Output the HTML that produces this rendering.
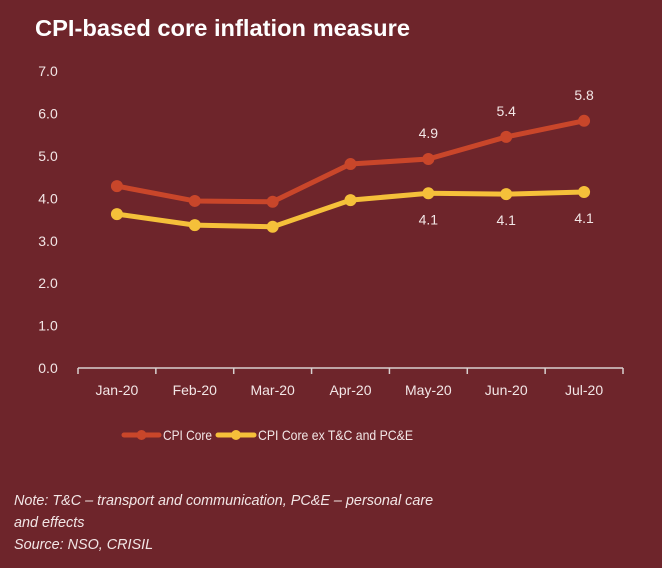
<!DOCTYPE html>
<html><head><meta charset="utf-8"><style>
body{margin:0;background:#6e252b;}
#c{position:relative;width:662px;height:568px;background:#6e252b;font-family:"Liberation Sans",sans-serif;color:#f2e6e6;overflow:hidden}
.n{position:absolute;left:14px;top:490px;font-size:14.4px;font-style:italic;line-height:22px;color:#f2e6e6}
</style></head><body>
<div id="c">
<svg id="s" width="662" height="568" style="position:absolute;left:0;top:0">
<text x="35" y="36" font-size="23" font-weight="bold" fill="#fff" textLength="375" lengthAdjust="spacingAndGlyphs">CPI-based core inflation measure</text>
</svg>
<div class="n">Note: T&amp;C – transport and communication, PC&amp;E – personal care<br>and effects<br>Source: NSO, CRISIL</div>
</div>
<script>
const categories=["Jan-20","Feb-20","Mar-20","Apr-20","May-20","Jun-20","Jul-20"];
const cpiCore=[4.29,3.94,3.92,4.81,4.93,5.45,5.83];
const cpiCoreEx=[3.63,3.37,3.33,3.96,4.12,4.10,4.15];
const coreLabels=[null,null,null,null,"4.9","5.4","5.8"];
const exLabels=[null,null,null,null,"4.1","4.1","4.1"];
const yTicks=[0,1,2,3,4,5,6,7];
const yTickLabels=["0.0","1.0","2.0","3.0","4.0","5.0","6.0","7.0"];
const NS="http://www.w3.org/2000/svg";
const svg=document.getElementById('s');
const x0=78,x1=623,y0=368,ppu=42.4;
const bw=(x1-x0)/categories.length;
const xs=i=>x0+bw*(i+0.5);
const ys=v=>y0-v*ppu;
function mk(t,a,p){const e=document.createElementNS(NS,t);for(const k in a)e.setAttribute(k,a[k]);(p||svg).appendChild(e);return e;}
yTicks.forEach((v,i)=>{const e=mk('text',{x:48,y:ys(v)+5,'font-size':14,fill:'#f2e6e6','text-anchor':'middle'});e.textContent=yTickLabels[i];

});
const ax=mk('line',{x1:x0,y1:y0,x2:x1,y2:y0,stroke:'#d8d0d0','stroke-width':1.5});


for(let i=0;i<=categories.length;i++){const tk=mk('line',{x1:x0+bw*i,y1:y0,x2:x0+bw*i,y2:y0+6,stroke:'#d8d0d0','stroke-width':1.5});

}
categories.forEach((c,i)=>{const e=mk('text',{x:xs(i),y:y0+27,'font-size':14,fill:'#f2e6e6','text-anchor':'middle'});e.textContent=c;

});
function series(vals,col,name,labels,off){
const g=mk('g',{});


mk('polyline',{points:vals.map((v,i)=>xs(i)+','+ys(v)).join(' '),fill:'none',stroke:col,'stroke-width':5,'stroke-linejoin':'round'},g);
vals.forEach((v,i)=>{const c=mk('circle',{cx:xs(i),cy:ys(v),r:6,fill:col},g);


if(labels[i]){const t=mk('text',{x:xs(i),y:ys(v)+off,'font-size':14,fill:'#f2e6e6','text-anchor':'middle'},g);t.textContent=labels[i];

}});}
series(cpiCore,'#c9462a','cpi-core-series',coreLabels,-21);
series(cpiCoreEx,'#f5c03a','cpi-core-ex-series',exLabels,31);
function leg(x,w,col,txt,tw){const g=mk('g',{});


mk('line',{x1:x,y1:435,x2:x+w,y2:435,stroke:col,'stroke-width':5,'stroke-linecap':'round'},g);
mk('circle',{cx:x+w/2,cy:435,r:5,fill:col},g);
const t=mk('text',{x:x+w+4,y:440,'font-size':14,fill:'#f2e6e6',textLength:tw,lengthAdjust:'spacingAndGlyphs'},g);t.textContent=txt;}
leg(124,35,'#c9462a','CPI Core',49);
leg(218,36,'#f5c03a','CPI Core ex T&C and PC&E',155);
</script>
</body></html>
